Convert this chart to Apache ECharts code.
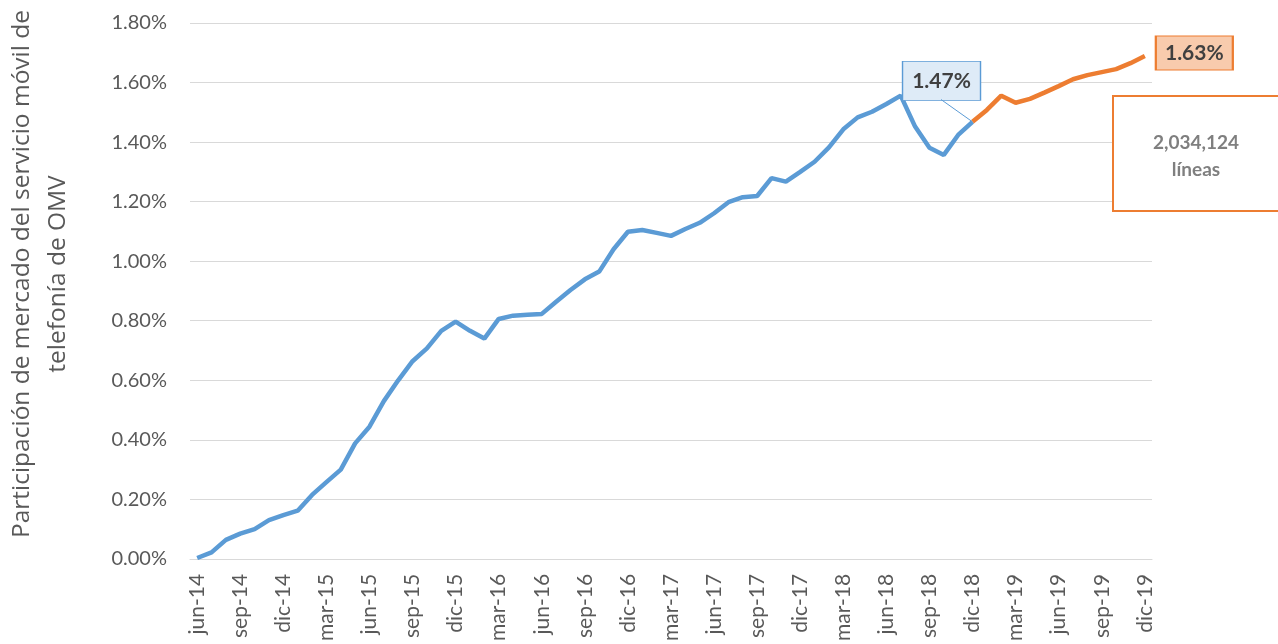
<!DOCTYPE html>
<html>
<head>
<meta charset="utf-8">
<script src="https://cdn.jsdelivr.net/npm/echarts@6/dist/echarts.min.js"></script>
<style>
  html, body { margin: 0; padding: 0; background: #fff; }
  #chart { width: 1278px; height: 644px; }
</style>
</head>
<body>
<div id="chart"></div>
<script>
// meses jun-14 .. dic-19
const meses = ['ene', 'feb', 'mar', 'abr', 'may', 'jun', 'jul', 'ago', 'sep', 'oct', 'nov', 'dic'];
const categorias = [];
for (let y = 14; y <= 19; y++) {
  for (let m = 0; m < 12; m++) {
    if (y === 14 && m < 5) continue;
    categorias.push(meses[m] + '-' + y);
  }
}

// participacion real (%)
const historico = [
  0.003, 0.022, 0.064, 0.085, 0.100, 0.130, 0.147, 0.162, 0.215, 0.258,
  0.300, 0.388, 0.444, 0.530, 0.600, 0.664, 0.707, 0.766, 0.797, 0.766,
  0.740, 0.806, 0.817, 0.820, 0.823, 0.864, 0.903, 0.939, 0.965, 1.040,
  1.099, 1.105, 1.095, 1.085, 1.108, 1.129, 1.161, 1.198, 1.215, 1.219,
  1.279, 1.267, 1.300, 1.334, 1.382, 1.443, 1.483, 1.502, 1.528, 1.556,
  1.452, 1.381, 1.357, 1.424, 1.468
];
// tramo dic-18 .. dic-19
const proyeccion = [
  1.468, 1.508, 1.556, 1.532, 1.545, 1.566, 1.588, 1.611, 1.625, 1.635,
  1.645, 1.665, 1.689
];

const serieAzul = historico.concat(new Array(categorias.length - historico.length).fill(null));
const serieNaranja = new Array(categorias.length - proyeccion.length).fill(null).concat(proyeccion);

const txtFont = 'Lato, "Open Sans", sans-serif';

const chart = echarts.init(document.getElementById('chart'));

const option = {
  animation: false,
  grid: { left: 190, right: 126, top: 23, bottom: 85, containLabel: false },
  xAxis: {
    type: 'category',
    data: categorias,
    boundaryGap: true,
    axisLine: { lineStyle: { color: '#D9D9D9' } },
    axisTick: { show: false },
    axisLabel: {
      interval: 2,
      rotate: 90,
      color: '#595959',
      fontSize: 21,
      fontFamily: txtFont,
      margin: 15
    }
  },
  yAxis: {
    type: 'value',
    min: 0,
    max: 1.8,
    interval: 0.2,
    axisLabel: {
      color: '#595959',
      fontSize: 20,
      fontFamily: txtFont,
      margin: 23,
      formatter: v => v.toFixed(2) + '%'
    },
    splitLine: { lineStyle: { color: '#D9D9D9', width: 1 } }
  },
  series: [
    {
      name: 'historico',
      type: 'line',
      data: serieAzul,
      showSymbol: false,
      lineStyle: { color: '#5B9BD5', width: 4.5 },
      itemStyle: { color: '#5B9BD5' },
      markPoint: {
        silent: true,
        data: [{
          coord: [categorias[54], 1.468],
          symbol: 'rect',
          symbolSize: [78, 39],
          symbolOffset: [-31, -41],
          itemStyle: { color: '#DEEBF7', borderColor: '#5B9BD5', borderWidth: 1 },
          label: {
            show: true,
            position: 'inside',
            formatter: '1.47%',
            color: '#404040',
            fontWeight: 'bold',
            fontSize: 21,
            fontFamily: txtFont
          }
        }]
      }
    },
    {
      name: 'proyeccion',
      type: 'line',
      data: serieNaranja,
      showSymbol: false,
      lineStyle: { color: '#ED7D31', width: 4.5 },
      itemStyle: { color: '#ED7D31' },
      markPoint: {
        silent: true,
        data: [{
          coord: [categorias[66], 1.689],
          symbol: 'rect',
          symbolSize: [77, 34],
          symbolOffset: [49.5, -3],
          itemStyle: { color: '#F8CBAD', borderColor: '#ED7D31', borderWidth: 1.5 },
          label: {
            show: true,
            position: 'inside',
            formatter: '1.63%',
            color: '#404040',
            fontWeight: 'bold',
            fontSize: 21,
            fontFamily: txtFont
          }
        }]
      }
    }
  ]
};
chart.setOption(option);

// linea guia de la etiqueta 1.47% y cuadro de lineas
const p = chart.convertToPixel({ seriesIndex: 0 }, [54, 1.468]);
chart.setOption({
  graphic: [
    {
      type: 'line',
      z: 90,
      shape: { x1: 941, y1: 99.5, x2: p[0], y2: p[1] },
      style: { stroke: '#5B9BD5', lineWidth: 1 }
    },
    {
      type: 'rect',
      z: 100,
      shape: { x: 1113, y: 96, width: 180, height: 115 },
      style: { fill: '#fff', stroke: '#ED7D31', lineWidth: 2 }
    },
    {
      type: 'text',
      z: 101,
      x: 1196,
      y: 156,
      style: {
        text: '2,034,124\nlíneas',
        fill: '#7F7F7F',
        font: 'bold 19px ' + txtFont,
        align: 'center',
        verticalAlign: 'middle',
        lineHeight: 27
      }
    },
    {
      type: 'text',
      x: 40,
      y: 274,
      rotation: Math.PI / 2,
      style: {
        text: 'Participación de mercado del servicio móvil de\ntelefonía de OMV',
        fill: '#595959',
        font: '24.5px "Open Sans", sans-serif',
        align: 'center',
        verticalAlign: 'middle',
        lineHeight: 36
      }
    }
  ]
});
</script>
</body>
</html>
